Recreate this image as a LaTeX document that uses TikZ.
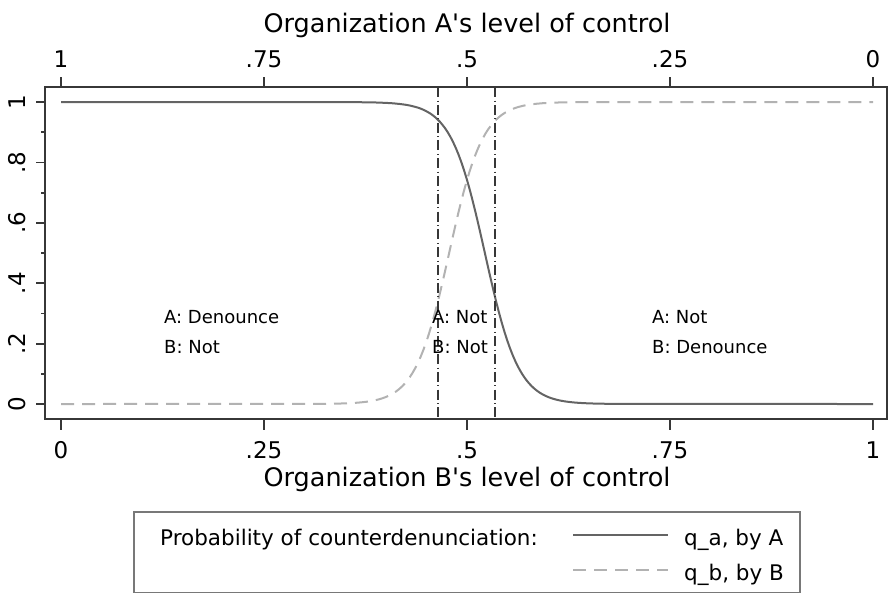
\documentclass[tikz,border=0pt]{standalone}
\usepackage{fontspec}
\setmainfont{DejaVu Sans}
\definecolor{qagray}{RGB}{100,100,100}
\definecolor{qbgray}{RGB}{178,178,178}
\definecolor{framegray}{RGB}{55,55,55}
\definecolor{boxgray}{RGB}{120,120,120}
\tikzset{
  qacurve/.style={qagray, line width=2pt},
  qbcurve/.style={qbgray, line width=2pt, dash pattern=on 13pt off 8pt},
  cutline/.style={framegray, line width=2pt, dash pattern=on 10pt off 3.5pt on 0.8pt off 3.5pt},
  tickline/.style={framegray, line width=1.8pt},
  ticklab/.style={font=\fontsize{23}{27}\selectfont, anchor=base, inner sep=0pt},
  axtitle/.style={font=\fontsize{25.5}{30}\selectfont, anchor=base, inner sep=0pt},
  regionlab/.style={font=\fontsize{18}{22}\selectfont, anchor=base west, inner sep=0pt},
  leglab/.style={font=\fontsize{21.5}{25}\selectfont, anchor=base west, inner sep=0pt}
}
\begin{document}
\begin{tikzpicture}[x=1pt,y=-1pt]
    \useasboundingbox (0,0) rectangle (890,592);

    \begin{scope}[shift={(61,404)}, x=812pt, y=302pt]
        \draw[qbcurve] (0,0)
            -- plot[domain=0.3:0.7, samples=121] (\x,{1/(1+exp(48*(0.478-\x)))})
            -- (1,1);
        \draw[qacurve] (0,1)
            -- plot[domain=0.3:0.7, samples=121] (\x,{1/(1+exp(48*(\x-0.522)))})
            -- (1,0);
    \end{scope}

    \coordinate (cutAtop) at (438,87);
    \coordinate (cutAbot) at (438,419);
    \coordinate (cutBtop) at (495,87);
    \coordinate (cutBbot) at (495,419);
    \draw[cutline] (cutAtop) -- (cutAbot);
    \draw[cutline] (cutBtop) -- (cutBbot);

    \draw[framegray, line width=2.2pt] (45,87) rectangle (887,419);

    \foreach \t/\blab/\tlab [count=\i] in {0/0/1, 0.25/.25/.75, 0.5/.5/.5, 0.75/.75/.25, 1/1/0} {
        \draw[tickline] ({61+812*\t},419) -- ++(0,11);
        \draw[tickline] ({61+812*\t},87) -- ++(0,-10);
        \node[ticklab] (bot\i) at ({61+812*\t},458) {\blab};
        \node[ticklab] (top\i) at ({61+812*\t},67) {\tlab};
    }
    \foreach \v/\lab [count=\i] in {0/0, 0.2/.2, 0.4/.4, 0.6/.6, 0.8/.8, 1/1} {
        \draw[tickline] (45,{404-302*\v}) -- ++(-9,0);
        \node[ticklab, rotate=90] (left\i) at (25,{404-302*\v}) {\lab};
    }
    \foreach \v in {0.1,0.3,0.5,0.7,0.9}
        \draw[tickline] (45,{404-302*\v}) -- ++(-4,0);

    \node[axtitle] (toptitle) at (467,32) {Organization A\textquotesingle s level of control};
    \node[axtitle] (bottitle) at (467,486) {Organization B\textquotesingle s level of control};

    \node[regionlab] (leftA) at (164,323) {A: Denounce};
    \node[regionlab] (leftB) at (164,353) {B: Not};
    \node[regionlab] (midA) at (432,323) {A: Not};
    \node[regionlab] (midB) at (432,353) {B: Not};
    \node[regionlab] (rightA) at (652,323) {A: Not};
    \node[regionlab] (rightB) at (652,353) {B: Denounce};

    \draw[boxgray, line width=1.6pt] (134,512) rectangle (800,593);
    \node[leglab] (legtitle) at (160,545) {Probability of counterdenunciation:};
    \coordinate (qaL) at (573,535);
    \coordinate (qaR) at (668,535);
    \coordinate (qbL) at (573,570);
    \coordinate (qbR) at (668,570);
    \draw[qacurve] (qaL) -- (qaR);
    \draw[qbcurve] (qbL) -- (qbR);
    \node[leglab] (qalab) at (684,545) {q\_a, by A};
    \node[leglab] (qblab) at (684,580) {q\_b, by B};
\end{tikzpicture}
\end{document}
